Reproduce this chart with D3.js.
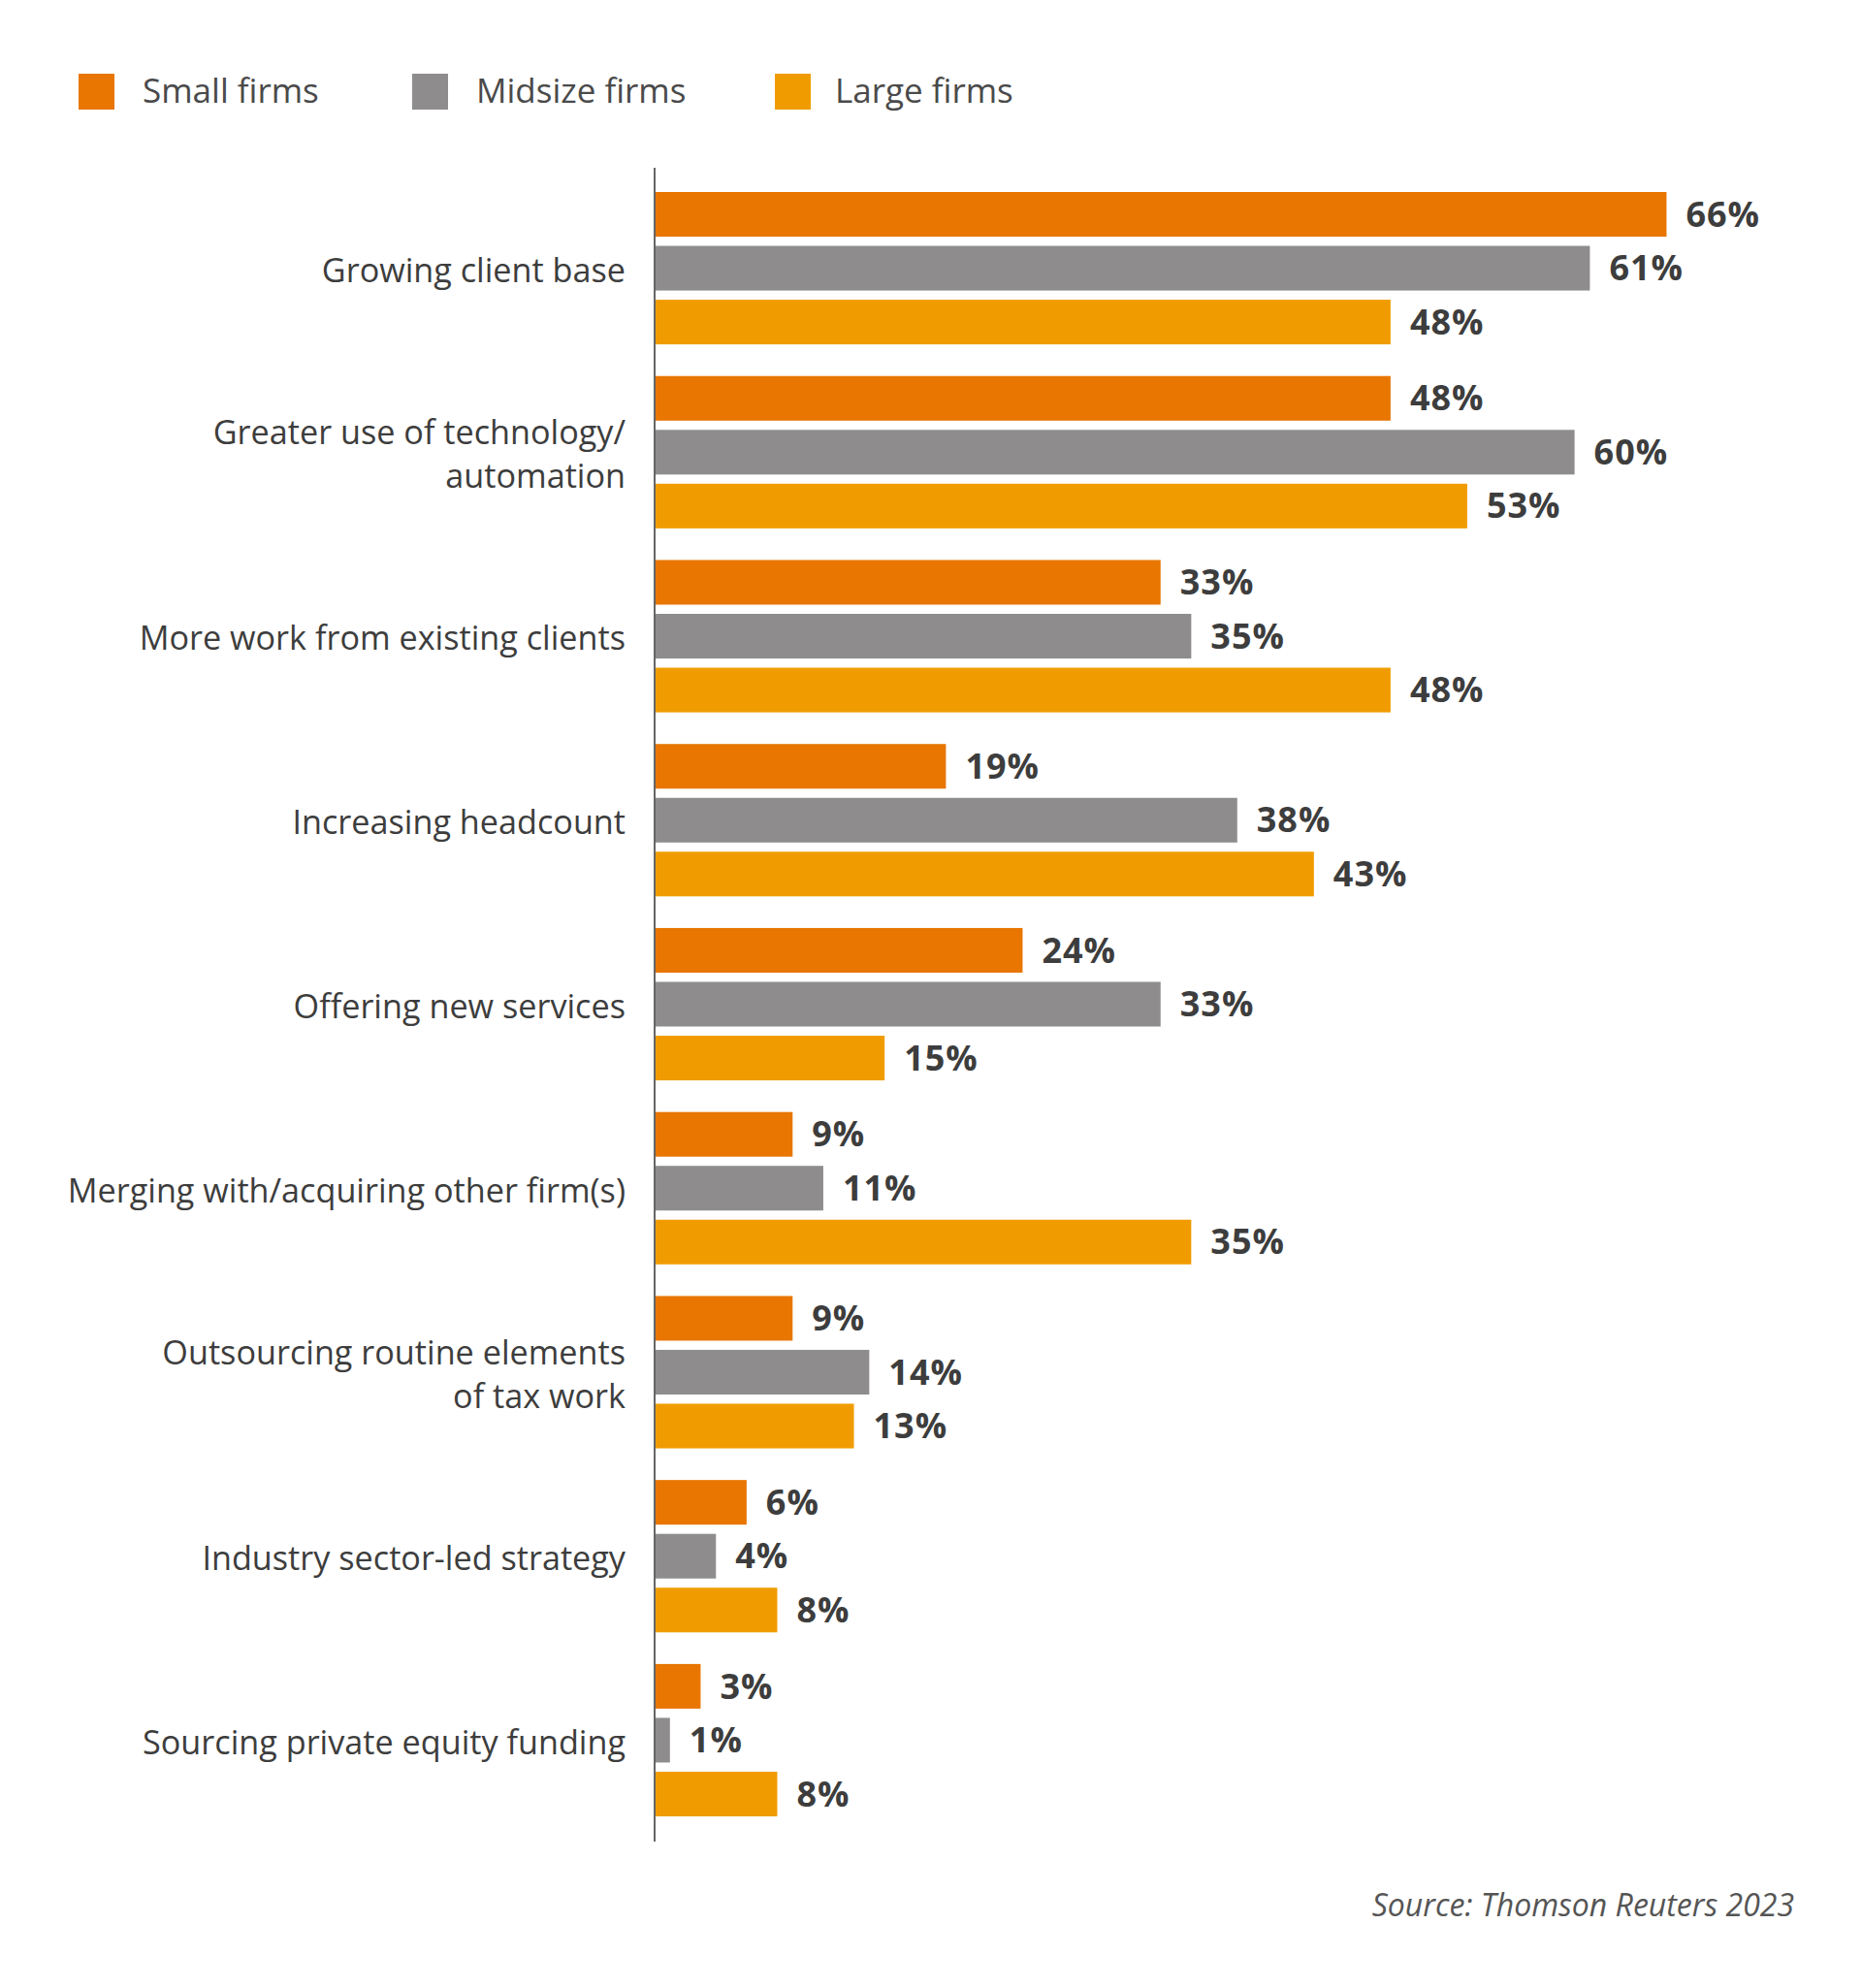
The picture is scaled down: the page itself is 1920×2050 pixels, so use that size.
<!DOCTYPE html>
<html>
<head>
<meta charset="utf-8">
<script src="https://cdn.jsdelivr.net/npm/d3@7"></script>
<style>
  body { margin: 0; background: #fff; }
  svg text { font-family: "Open Sans", "Noto Sans", sans-serif; }
</style>
</head>
<body>
<div id="chart"></div>
<script>
const categories = [
    ["Growing client base"],
    ["Greater use of technology/", "automation"],
    ["More work from existing clients"],
    ["Increasing headcount"],
    ["Offering new services"],
    ["Merging with/acquiring other firm(s)"],
    ["Outsourcing routine elements", "of tax work"],
    ["Industry sector-led strategy"],
    ["Sourcing private equity funding"]
];
const seriesNames = ["Small firms", "Midsize firms", "Large firms"];
const smallFirms = [66, 48, 33, 19, 24, 9, 9, 6, 3];
const midsizeFirms = [61, 60, 35, 38, 33, 11, 14, 4, 1];
const largeFirms = [48, 53, 48, 43, 15, 35, 13, 8, 8];
const sourceText = "Source: Thomson Reuters 2023";

const colors = ["#e87600", "#8e8c8d", "#f09c00"];
const width = 1920, height = 2050;
const keys = categories.map(c => c.join(" "));
const series = [smallFirms, midsizeFirms, largeFirms];

const svg = d3.select("#chart")
    .append("svg")
    .attr("width", width)
    .attr("height", height);

// scales
const x = d3.scaleLinear().domain([0, 100]).range([675, 2256]);
const y0 = d3.scaleBand()
    .domain(keys)
    .range([198, 1873])
    .paddingInner(0.172)
    .paddingOuter(0);
const y1 = d3.scaleBand()
    .domain(seriesNames)
    .range([0, y0.bandwidth()])
    .paddingInner(0.171);

// legend
const legendX = [81, 425, 799];
const legendTextX = [66, 66, 62];
const legend = svg.append("g")
    .selectAll("g")
    .data(seriesNames)
    .join("g")
    .attr("transform", (d, i) => `translate(${legendX[i]},76)`);
legend.append("rect")
    .attr("width", 37)
    .attr("height", 37)
    .attr("fill", (d, i) => colors[i]);
legend.append("text")
    .attr("x", (d, i) => legendTextX[i])
    .attr("y", 30)
    .attr("font-size", "35px")
    .attr("fill", "#4a4a4a")
    .text(d => d);

// bars
const groups = svg.append("g")
    .selectAll("g")
    .data(keys)
    .join("g")
    .attr("transform", d => `translate(0,${y0(d)})`);

groups.selectAll("rect")
    .data((d, gi) => seriesNames.map((s, si) => ({ s, si, v: series[si][gi] })))
    .join("rect")
    .attr("x", x(0))
    .attr("y", d => y1(d.s))
    .attr("width", d => x(d.v) - x(0))
    .attr("height", y1.bandwidth())
    .attr("fill", d => colors[d.si]);

groups.selectAll("text.val")
    .data((d, gi) => seriesNames.map((s, si) => ({ s, si, v: series[si][gi] })))
    .join("text")
    .attr("class", "val")
    .attr("x", d => x(d.v) + 20)
    .attr("y", d => y1(d.s) + y1.bandwidth() / 2)
    .attr("dy", "0.35em")
    .attr("font-size", "36px")
    .attr("font-weight", "bold")
    .attr("letter-spacing", "1px")
    .attr("fill", "#3d3d3d")
    .text(d => d.v + "%");

// category labels, centred on the middle bar
const lineH = 44.5;
groups.each(function (d, gi) {
    const lines = categories[gi];
    const mid = y1(seriesNames[1]) + y1.bandwidth() / 2 + 2;
    const t = d3.select(this).append("text")
        .attr("text-anchor", "end")
        .attr("font-size", "34.2px")
        .attr("fill", "#3d3d3d");
    lines.forEach((ln, li) => {
        t.append("tspan")
            .attr("x", 645)
            .attr("y", mid + (li - (lines.length - 1) / 2) * lineH)
            .attr("dy", "0.36em")
            .text(ln);
    });
});

// axis line
svg.append("line")
    .attr("x1", x(0)).attr("x2", x(0))
    .attr("y1", 173).attr("y2", 1899)
    .attr("stroke", "#666")
    .attr("stroke-width", 2);

// source
svg.append("text")
    .attr("x", 1850)
    .attr("y", 1976)
    .attr("text-anchor", "end")
    .attr("font-size", "32px")
    .attr("font-style", "italic")
    .attr("fill", "#555")
    .text(sourceText);
</script>
</body>
</html>
